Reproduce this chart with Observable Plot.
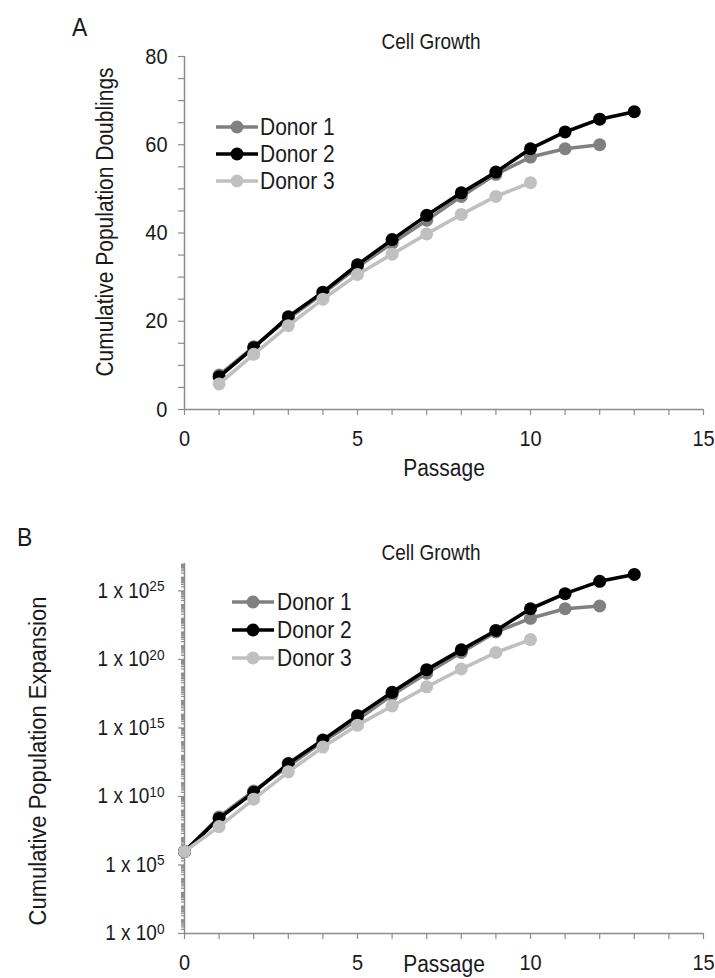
<!DOCTYPE html>
<html>
<head>
<meta charset="utf-8">
<script src="https://cdn.jsdelivr.net/npm/d3@7"></script>
<script src="https://cdn.jsdelivr.net/npm/@observablehq/plot@0.6"></script>
<style>
  html, body { margin: 0; padding: 0; background: #fff; }
  #wrap { width: 715px; }
  #wrap svg { display: block; }
</style>
</head>
<body>
<div id="wrap"></div>
<script>
// ---------------- data ----------------
const seriesNames = ["Donor 1", "Donor 2", "Donor 3"];
const seriesColors = ["#808080", "#000000", "#c0c0c0"];

// Panel A: cumulative population doublings by passage
const passageA = [1, 2, 3, 4, 5, 6, 7, 8, 9, 10, 11, 12, 13];
const pdDonor1 = [7.8, 14.2, 20.6, 26.3, 32.3, 37.7, 42.9, 48.3, 53.3, 57.2, 59.1, 60.0];
const pdDonor2 = [7.4, 14.0, 21.0, 26.6, 32.8, 38.5, 44.0, 49.1, 53.8, 59.1, 62.9, 65.8, 67.5];
const pdDonor3 = [5.8, 12.5, 19.0, 25.0, 30.6, 35.2, 39.8, 44.2, 48.3, 51.4];

// Panel B: cumulative population expansion by passage
const passageB = [0, 1, 2, 3, 4, 5, 6, 7, 8, 9, 10, 11, 12, 13];
const expDonor1 = [9.5e5, 3.2e8, 2.5e10, 1.6e12, 1.0e14, 4.0e15, 2.5e17, 1.0e19, 3.2e20, 1.0e22, 1.0e23, 5.0e23, 7.9e23];
const expDonor2 = [9.5e5, 2.5e8, 2.0e10, 2.5e12, 1.3e14, 7.9e15, 4.0e17, 1.8e19, 5.0e20, 1.3e22, 5.0e23, 6.3e24, 5.0e25, 1.6e26];
const expDonor3 = [9.5e5, 6.3e7, 6.3e9, 6.3e11, 4.0e13, 1.6e15, 4.0e16, 1.0e18, 2.0e19, 3.2e20, 2.8e21];

// tick labels
const xTickLabels = [0, 5, 10, 15];
const yTickLabelsA = [0, 20, 40, 60, 80];
const yTickExponentsB = [0, 5, 10, 15, 20, 25];

// ---------------- helpers ----------------
const FONT = "'Liberation Sans', Arial, Helvetica, sans-serif";
const AXIS_GRAY = "#8c8c8c";
const TEXT = "#1a1a1a";
const STRETCH = 1.12; // the reference's lettering is slightly tall/narrow

function tidy(passages, seriesList) {
  return seriesList.flatMap((vals, i) =>
    vals.map((v, j) => ({donor: seriesNames[i], passage: passages[j], value: v})));
}
const rowsA = tidy(passageA, [pdDonor1, pdDonor2, pdDonor3]);
const rowsB = tidy(passageB, [expDonor1, expDonor2, expDonor3]);

function seriesMarks(rows) {
  return seriesNames.flatMap(name => {
    const d = rows.filter(r => r.donor === name);
    return [
      Plot.line(d, {x: "passage", y: "value", stroke: "donor", strokeWidth: 3.6, strokeLinejoin: "round"}),
      Plot.dot(d, {x: "passage", y: "value", fill: "donor", r: 6.5})
    ];
  });
}

function addText(svg, {x, y, text, size, anchor = "start", rotate = 0}) {
  const t = d3.select(svg).append("text")
    .attr("font-family", FONT)
    .attr("font-size", size)
    .attr("fill", TEXT)
    .attr("text-anchor", anchor)
    .text(text);
  t.attr("transform", `translate(${x},${y})` + (rotate ? ` rotate(${rotate})` : ""));
  return t;
}

function addLegend(svg, {x0, x1, xText, ys, size}) {
  const g = d3.select(svg).append("g");
  seriesNames.forEach((name, i) => {
    g.append("line").attr("x1", x0).attr("x2", x1).attr("y1", ys[i]).attr("y2", ys[i])
      .attr("stroke", seriesColors[i]).attr("stroke-width", 3.6);
    g.append("circle").attr("cx", (x0 + x1) / 2).attr("cy", ys[i]).attr("r", 6.5)
      .attr("fill", seriesColors[i]);
    g.append("text").attr("transform", `translate(${xText},${ys[i]})`).attr("dy", "0.36em")
      .attr("text-anchor", "start")
      .attr("font-family", FONT).attr("font-size", size).attr("fill", TEXT).text(name);
  });
}

// stretch every text element vertically about its own anchor point
function stretchTexts(svg) {
  d3.select(svg).selectAll("text").each(function () {
    const tr = this.getAttribute("transform");
    if (tr) {
      this.setAttribute("transform", tr + ` scale(1,${STRETCH})`);
    } else {
      const x = +this.getAttribute("x") || 0, y = +this.getAttribute("y") || 0;
      this.removeAttribute("x"); this.removeAttribute("y");
      this.setAttribute("transform", `translate(${x},${y}) scale(1,${STRETCH})`);
    }
  });
}

const allPassages = d3.range(0, 16);
const wrap = document.getElementById("wrap");

// ---------------- Panel A ----------------
const svgA = Plot.plot({
  width: 715, height: 489,
  marginTop: 56, marginBottom: 80, marginLeft: 184, marginRight: 12,
  style: {fontFamily: FONT, fontSize: "20px", color: TEXT, background: "#fff", overflow: "visible"},
  x: {domain: [0, 15]},
  y: {domain: [0, 80]},
  color: {domain: seriesNames, range: seriesColors},
  marks: [
    Plot.axisX({ticks: allPassages, tickSize: 6, tickPadding: 15, stroke: AXIS_GRAY, strokeWidth: 1.2,
      tickFormat: d => xTickLabels.includes(d) ? String(d) : "", label: null}),
    Plot.axisY({ticks: d3.range(0, 81, 5), tickSize: 6, tickPadding: 11, stroke: AXIS_GRAY, strokeWidth: 1.2,
      tickFormat: d => yTickLabelsA.includes(d) ? String(d) : "", label: null}),
    Plot.ruleX([0], {stroke: AXIS_GRAY, strokeWidth: 1.5}),
    Plot.ruleY([0], {stroke: AXIS_GRAY, strokeWidth: 1.5}),
    ...seriesMarks(rowsA)
  ]
});
wrap.appendChild(svgA);
addText(svgA, {x: 72, y: 36, text: "A", size: 23});
addText(svgA, {x: 431, y: 49, text: "Cell Growth", size: 19, anchor: "middle"});
addText(svgA, {x: 113, y: 222, text: "Cumulative Population Doublings", size: 21, anchor: "middle", rotate: -90});
addText(svgA, {x: 444, y: 476, text: "Passage", size: 21, anchor: "middle"});
addLegend(svgA, {x0: 216, x1: 258, xText: 260, ys: [127, 154, 181], size: 21});
stretchTexts(svgA);

// ---------------- Panel B ----------------
const minorTicksB = d3.range(0, 27).flatMap(e => [1, 2, 3, 4, 5, 6, 7, 8, 9]
  .filter(k => !(k === 1 && yTickExponentsB.includes(e)))
  .map(k => k * Math.pow(10, e)));
const majorTicksB = yTickExponentsB.map(e => Math.pow(10, e));

const svgB = Plot.plot({
  width: 715, height: 489,
  marginTop: 74, marginBottom: 45, marginLeft: 184, marginRight: 12,
  style: {fontFamily: FONT, fontSize: "20px", color: TEXT, background: "#fff", overflow: "visible"},
  x: {domain: [0, 15]},
  y: {type: "log", domain: [1, 1e27]},
  color: {domain: seriesNames, range: seriesColors},
  marks: [
    Plot.axisX({ticks: allPassages, tickSize: 6, tickPadding: 15, stroke: AXIS_GRAY, strokeWidth: 1.2,
      tickFormat: d => xTickLabels.includes(d) ? String(d) : "", label: null}),
    Plot.axisY({ticks: minorTicksB, tickSize: 3, stroke: AXIS_GRAY, strokeWidth: 1.2,
      tickFormat: () => "", label: null}),
    Plot.axisY({ticks: majorTicksB, tickSize: 6, tickPadding: 14, stroke: AXIS_GRAY, strokeWidth: 1.2,
      fontSize: 19, tickFormat: d => "1 x 10^" + Math.round(Math.log10(d)), label: null}),
    Plot.ruleX([0], {stroke: AXIS_GRAY, strokeWidth: 1.5}),
    Plot.ruleY([1], {stroke: AXIS_GRAY, strokeWidth: 1.5}),
    ...seriesMarks(rowsB)
  ]
});
wrap.appendChild(svgB);

// superscript exponents on the log-axis tick labels
d3.select(svgB).selectAll("text").each(function () {
  const s = this.textContent;
  if (s.includes("^")) {
    const [base, exp] = s.split("^");
    const t = d3.select(this);
    t.text(null);
    t.append("tspan").text(base);
    t.append("tspan").attr("dy", "-0.42em").attr("font-size", "0.72em").text(exp);
  }
});

addText(svgB, {x: 17, y: 57, text: "B", size: 23});
addText(svgB, {x: 431, y: 71, text: "Cell Growth", size: 19, anchor: "middle"});
addText(svgB, {x: 46, y: 272, text: "Cumulative Population Expansion", size: 22, anchor: "middle", rotate: -90});
addText(svgB, {x: 444, y: 483, text: "Passage", size: 21, anchor: "middle"});
addLegend(svgB, {x0: 232, x1: 274, xText: 277, ys: [113, 141, 169], size: 21});
stretchTexts(svgB);
</script>
</body>
</html>
